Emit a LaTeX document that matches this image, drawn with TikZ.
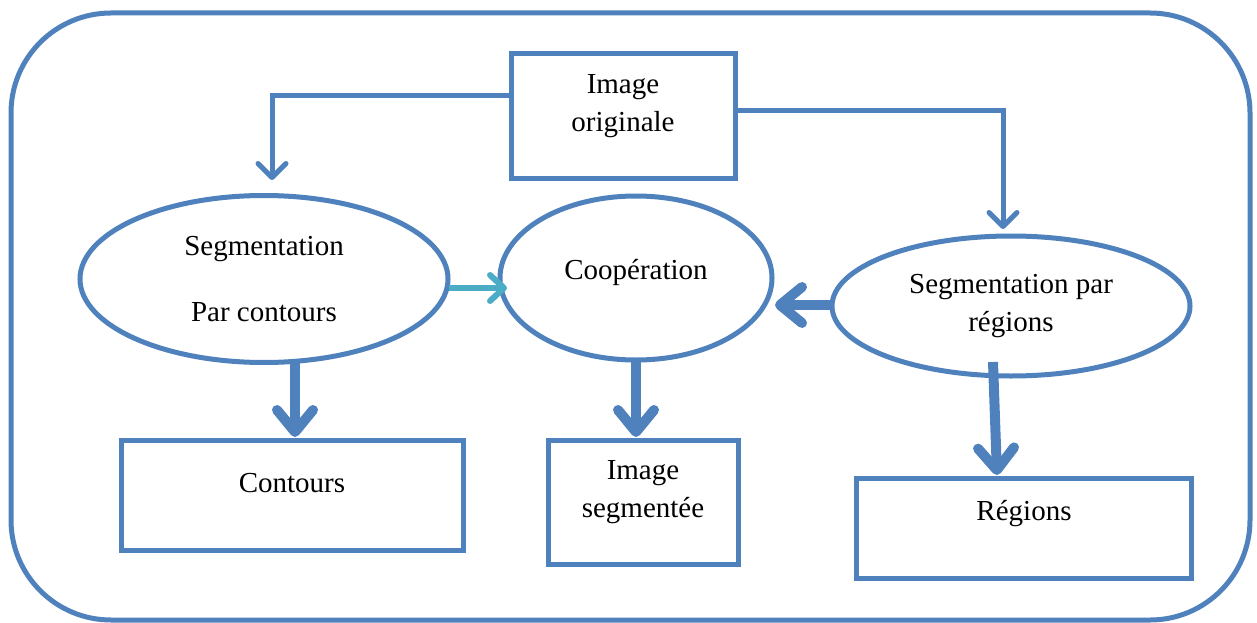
\documentclass[tikz,border=0pt]{standalone}
\usepackage{fontspec}
\setmainfont{Liberation Serif}
\usetikzlibrary{shapes.geometric,arrows.meta}
\definecolor{office}{HTML}{4F81BD}
\definecolor{aqua}{HTML}{4BACC6}
\begin{document}
\begin{tikzpicture}[x=1pt,y=-1pt,
  txt/.style={font=\fontsize{29}{38}\selectfont, align=center, text=black},
  box/.style={draw=office, line width=5pt, rectangle, inner sep=0pt},
  oval/.style={draw=office, line width=5pt, ellipse, inner sep=0pt, txt},
  thinarrow/.style={draw=office, line width=5pt,
    -{Straight Barb[length=14pt,width=28pt,round]}},
  thickarrow/.style={draw=office, line width=10pt,
    -{Straight Barb[length=22pt,width=36pt,round]}},
  linkarrow/.style={draw=aqua, line width=6pt,
    -{Straight Barb[length=14pt,width=26pt,round]}}]
\useasboundingbox (0,0) rectangle (1257,623);
% frame
\draw[office, line width=5pt, rounded corners=100pt] (11,13) rectangle (1250,620);

% boxes
\node[box, minimum width=224pt, minimum height=124pt,
  label={[txt,yshift=10pt]center:Image\\originale}] (orig) at (623,116) {};
\node[box, minimum width=342pt, minimum height=110pt,
  label={[txt,yshift=12pt]center:Contours}] (cont) at (292,495) {};
\node[box, minimum width=190pt, minimum height=124pt,
  label={[txt,yshift=10pt]center:Image\\segmentée}] (imseg) at (643,502) {};
\node[box, minimum width=335pt, minimum height=100pt,
  label={[txt,yshift=14pt]center:Régions}] (reg) at (1024,528) {};

% ellipses
\node[oval, minimum width=368pt, minimum height=167pt] (lseg) at (264,279)
  {Segmentation\\[28pt]Par contours};
\node[oval, minimum width=272pt, minimum height=164pt,
  label={[txt,yshift=5pt]center:Coopération}] (coop) at (636,278) {};
\node[oval, minimum width=358pt, minimum height=140pt] (rseg) at (1011,306)
  {Segmentation par\\régions};

% connector end points
\coordinate (lstart) at (511,96);
\coordinate (lend) at (272,180);
\coordinate (rstart) at (735,111);
\coordinate (rend) at (1003,229);
\coordinate (ltip) at (507,288);
\coordinate (lfrom) at (449,288);
\coordinate (c1) at (295,362);
\coordinate (c2) at (295,437);
\coordinate (m1) at (636,362);
\coordinate (m2) at (636,437);
\coordinate (r1) at (993,362);
\coordinate (r2) at (997,475);
\coordinate (rr1) at (832,305);
\coordinate (rr2) at (775,305);

% connectors
\draw[thinarrow] (lstart) -| (lend);
\draw[thinarrow] (rstart) -| (rend);
\draw[linkarrow] (lfrom) -- (ltip);
\draw[thickarrow] (rr1) -- (rr2);
\draw[thickarrow] (c1) -- (c2);
\draw[thickarrow] (m1) -- (m2);
\draw[thickarrow] (r1) -- (r2);
\end{tikzpicture}
\end{document}
